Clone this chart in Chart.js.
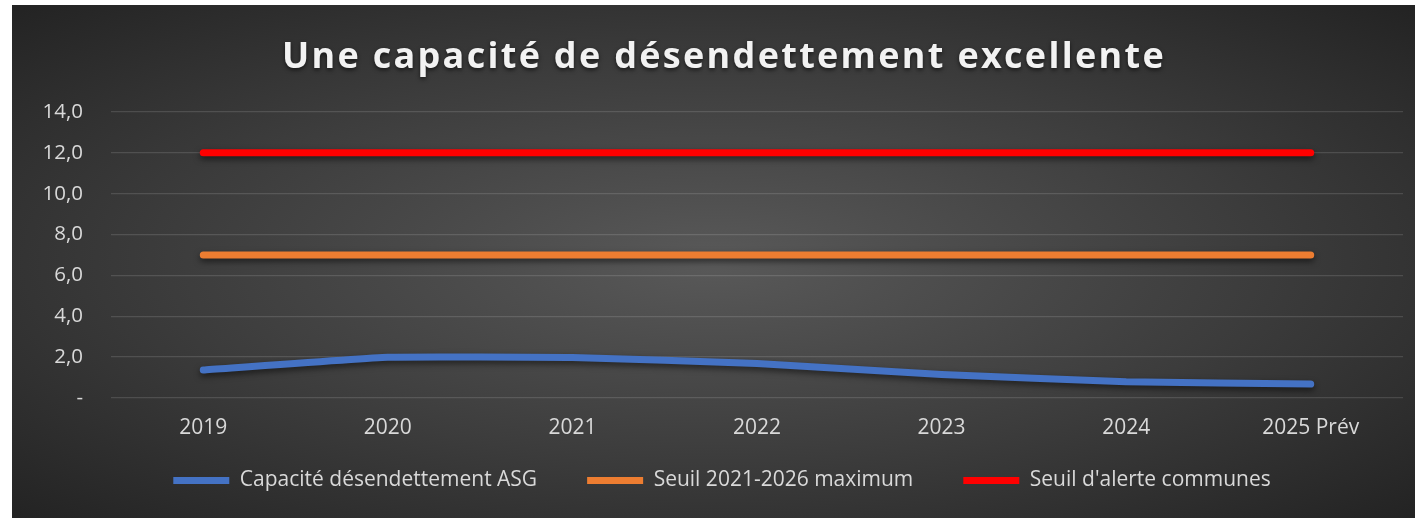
<!DOCTYPE html>
<html>
<head>
<meta charset="utf-8">
<script src="https://cdn.jsdelivr.net/npm/chart.js@4"></script>
<style>
  html, body { margin: 0; padding: 0; background: #fff; }
  #wrap {
    position: absolute; left: 12px; top: 5px; width: 1403px; height: 513px;
    background: radial-gradient(ellipse farthest-corner at 50% 50%, #595959 0%, #3c3c3c 55%, #232323 100%);
  }
</style>
</head>
<body>
<div id="wrap"><canvas id="debt_chart"></canvas></div>
<script>
const years = ['2019', '2020', '2021', '2022', '2023', '2024', '2025 Prév'];
const capaciteASG = [1.37, 1.99, 1.98, 1.69, 1.15, 0.8, 0.68];
const seuilMax = [7, 7, 7, 7, 7, 7, 7];
const seuilAlerte = [12, 12, 12, 12, 12, 12, 12];
const chartTitle = 'Une capacité de désendettement excellente';

const txtColor = '#d9d9d9';

// shadow under the lines + title with letter spacing
const decor = {
    id: 'decor',
    beforeDatasetsDraw(chart) {
        const ctx = chart.ctx;
        ctx.save();
        ctx.shadowColor = 'rgba(0,0,0,0.55)';
        ctx.shadowBlur = 6;
        ctx.shadowOffsetY = 3;
    },
    afterDatasetsDraw(chart) {
        chart.ctx.restore();
    },
    afterDraw(chart) {
        const ctx = chart.ctx;
        ctx.save();
        ctx.font = 'bold 36px "Open Sans"';
        ctx.letterSpacing = '2.3px';
        ctx.fillStyle = '#f2f2f2';
        ctx.textAlign = 'center';
        ctx.textBaseline = 'alphabetic';
        ctx.shadowColor = 'rgba(0,0,0,0.6)';
        ctx.shadowBlur = 4;
        ctx.shadowOffsetY = 2;
        ctx.fillText(chartTitle, 712, 63);
        ctx.restore();
    }
};

(function debt_chart()
{
    const el = document.getElementById('debt_chart');
    const myChart = new Chart(el, {
        type: 'line',
        data: {
            labels: years,
            datasets: [{
                label: 'Capacité désendettement ASG',
                data: capaciteASG,
                borderColor: '#4472C4',
                backgroundColor: '#4472C4',
                tension: 0.1
            }, {
                label: 'Seuil 2021-2026 maximum',
                data: seuilMax,
                borderColor: '#ED7D31',
                backgroundColor: '#ED7D31'
            }, {
                label: "Seuil d'alerte communes",
                data: seuilAlerte,
                borderColor: '#FF0000',
                backgroundColor: '#FF0000'
            }]
        },
        options: {
            responsive: true,
            maintainAspectRatio: false,
            animation: false,
            datasets: {
                line: {
                    borderWidth: 7,
                    borderCapStyle: 'round',
                    borderJoinStyle: 'round',
                    pointRadius: 0,
                    pointHoverRadius: 0
                }
            },
            layout: {
                padding: { top: 107, left: 29, right: 12, bottom: 17 }
            },
            scales: {
                x: {
                    offset: true,
                    grid: { display: false, drawTicks: false },
                    border: { display: false },
                    ticks: { color: txtColor, font: { family: 'Open Sans', size: 21, lineHeight: 1 }, padding: 20 },
                    afterFit(s) { s.height = 40; }
                },
                y: {
                    min: 0,
                    max: 14,
                    grid: { color: 'rgba(255,255,255,0.13)', lineWidth: 1.3, drawTicks: false },
                    border: { display: false },
                    ticks: {
                        stepSize: 2,
                        padding: 28,
                        color: txtColor,
                        font: { family: 'Open Sans', size: 20.5 },
                        callback: v => v === 0 ? '-' : v.toFixed(1).replace('.', ',')
                    },
                    afterFit(s) { s.width = 70; }
                }
            },
            plugins: {
                title: { display: false },
                tooltip: { enabled: false },
                legend: {
                    position: 'bottom',
                    // empty title with negative padding only pulls the items up
                    title: {
                        display: true,
                        text: ' ',
                        color: 'rgba(0,0,0,0)',
                        font: { size: 10, lineHeight: 1 },
                        padding: { top: -14, bottom: -14 }
                    },
                    labels: {
                        usePointStyle: true,
                        pointStyle: 'line',
                        pointStyleWidth: 56,
                        boxHeight: 20,
                        padding: 50,
                        color: txtColor,
                        font: { family: 'Open Sans', size: 21 }
                    }
                }
            }
        },
        plugins: [decor]
    });
})();
</script>
</body>
</html>
